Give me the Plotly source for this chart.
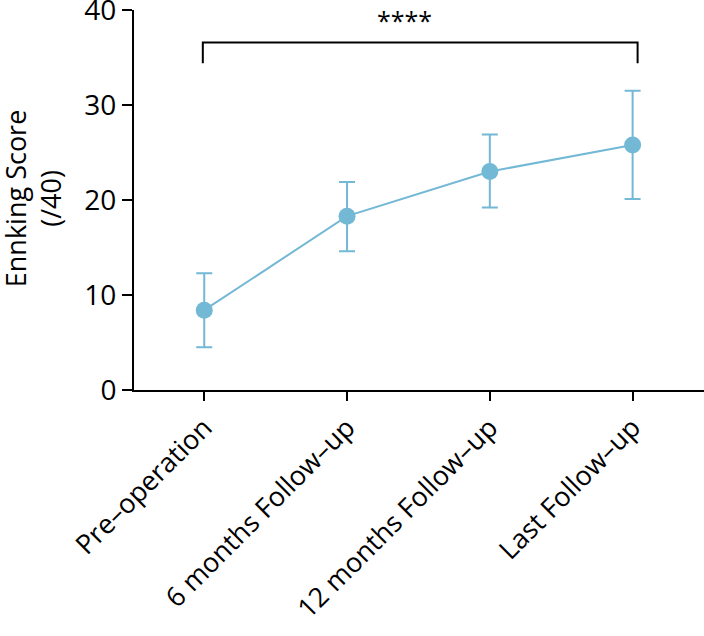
import plotly.graph_objects as go

categories = ["Pre–operation", "6 months Follow–up", "12 months Follow–up", "Last Follow–up"]
means = [8.4, 18.3, 23.0, 25.8]
upper = [12.3, 21.9, 26.9, 31.5]
lower = [4.5, 14.6, 19.2, 20.1]
y_ticks = [0, 10, 20, 30, 40]
sig_pair = [0, 3]
sig_level = [34.4, 36.57]
sig_text = "****"
sig_text_y = 39.0

err_plus = [u - m for u, m in zip(upper, means)]
err_minus = [m - l for m, l in zip(means, lower)]

color = "#73B8D5"
FONT = "Open Sans"
xidx = list(range(len(categories)))

fig = go.Figure()
fig.add_trace(go.Scatter(
    x=xidx, y=means, mode="lines+markers",
    line=dict(color=color, width=2),
    marker=dict(color=color, size=17),
    error_y=dict(type="data", symmetric=False, array=err_plus, arrayminus=err_minus,
                 color=color, thickness=2, width=8),
    showlegend=False, cliponaxis=False,
))

# significance bracket
fig.add_trace(go.Scatter(
    x=[sig_pair[0] - 0.01, sig_pair[0] - 0.01, sig_pair[1] + 0.035, sig_pair[1] + 0.035],
    y=[sig_level[0], sig_level[1], sig_level[1], sig_level[0]],
    mode="lines", line=dict(color="black", width=2), showlegend=False,
    cliponaxis=False, hoverinfo="skip",
))
fig.add_annotation(x=1.40, y=sig_text_y, text=sig_text,
                   showarrow=False, font=dict(family=FONT, size=25, color="black"))

fig.add_annotation(xref="paper", yref="paper", x=-0.177, y=0.505, xanchor="center", yanchor="middle",
                   text="Ennking Score<br>(/40)", textangle=-90, showarrow=False,
                   font=dict(family=FONT, size=27, color="black"))

fig.update_xaxes(
    range=[-0.492, 3.5], tickmode="array", tickvals=xidx, ticktext=categories,
    tickangle=-45, ticks="outside", ticklen=9, tickwidth=2, tickcolor="black",
    showline=True, linecolor="black", linewidth=2, showgrid=False, zeroline=False,
    tickfont=dict(family=FONT, size=27, color="black"),
)
fig.update_yaxes(
    range=[0, 40], tickmode="array", tickvals=y_ticks,
    ticks="outside", ticklen=10, tickwidth=2, tickcolor="black",
    showline=True, linecolor="black", linewidth=2, showgrid=False, zeroline=False,
    tickfont=dict(family=FONT, size=28, color="black"), ticklabeloverflow="allow",
)
fig.update_layout(
    width=704, height=636,
    margin=dict(l=134, r=0, t=10, b=246, autoexpand=False),
    plot_bgcolor="white", paper_bgcolor="white",
)
fig.write_html("out.html", config={"displayModeBar": False},
               post_script="document.body.style.margin='0';")
